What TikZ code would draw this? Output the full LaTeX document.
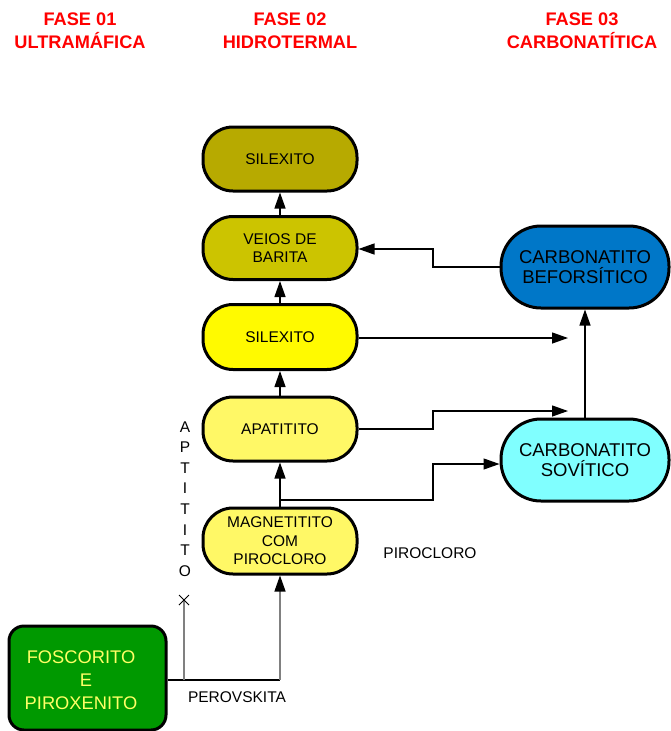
\documentclass[tikz,border=0pt]{standalone}
\usepackage{fontspec}
\setmainfont{Liberation Sans}
\usetikzlibrary{arrows.meta,calc}
\definecolor{titlered}{RGB}{255,0,0}
\definecolor{olivedark}{RGB}{183,170,0}
\definecolor{olivemid}{RGB}{204,196,0}
\definecolor{yellowfull}{RGB}{255,250,0}
\definecolor{yellowlight}{RGB}{255,248,102}
\definecolor{bluebef}{RGB}{0,119,200}
\definecolor{cyansov}{RGB}{128,255,255}
\definecolor{greenfos}{RGB}{0,153,0}
\definecolor{textyellow}{RGB}{255,255,102}
\definecolor{linegray}{RGB}{128,128,128}
\tikzset{
  phasetitle/.style={text=titlered, align=center, font=\bfseries\fontsize{18.2}{23}\selectfont},
  pill/.style={draw=black, line width=3pt, rectangle, rounded corners=30pt,
    minimum width=154pt, minimum height=63pt, align=center, inner sep=0pt,
    font=\fontsize{15.5}{18.5}\selectfont},
  bigpill/.style={pill, rounded corners=40pt, minimum width=168pt, minimum height=82pt,
    font=\fontsize{18.5}{20}\selectfont},
  flow/.style={line width=1.3pt, -{Triangle[length=16pt,width=11pt,color=black]}},
  plain/.style={line width=1.3pt},
  lbl/.style={font=\fontsize{15.5}{18}\selectfont, inner sep=0pt}
}
\begin{document}
\begin{tikzpicture}[x=1pt,y=-1pt]
\useasboundingbox (0,0) rectangle (670,731);

% phase headings
\node[phasetitle] (h1) at (80,31) {FASE 01\\ULTRAMÁFICA};
\node[phasetitle] (h2) at (290,31) {FASE 02\\HIDROTERMAL};
\node[phasetitle] (h3) at (582,31) {FASE 03\\CARBONATÍTICA};

% hydrothermal column
\node[pill, fill=olivedark, minimum height=64pt] (sil1) at (280,159) {SILEXITO};
\node[pill, fill=olivemid] (bar) at (280,248) {VEIOS DE\\BARITA};
\node[pill, fill=yellowfull, minimum height=65pt] (sil2) at (280,337) {SILEXITO};
\node[pill, fill=yellowlight, minimum height=64pt] (apa) at (280,429) {APATITITO};
\node[pill, fill=yellowlight, minimum height=66pt] (mag) at (280,541) {MAGNETITITO\\COM\\PIROCLORO};

% carbonatite column
\node[bigpill, fill=bluebef] (bef) at (585,267) {CARBONATITO\\BEFORSÍTICO};
\node[bigpill, fill=cyansov] (sov) at (585,460) {CARBONATITO\\SOVÍTICO};

% ultramafic source
\node[draw=black, line width=3pt, fill=greenfos, rounded corners=15pt,
      minimum width=157pt, minimum height=104pt, inner sep=0pt] (fos) at (87.5,678) {};
\node[text=textyellow, align=center, font=\fontsize{18.3}{23}\selectfont] (fostext) at (81,680)
  {FOSCORITO\\\hspace*{10pt}E\\PIROXENITO};

% vertical chain
\draw[flow] (bar.north) -- (sil1.south);
\draw[flow] (sil2.north) -- (bar.south);
\draw[flow] (apa.north) -- (sil2.south);
\draw[flow] (mag.north) -- (apa.south);

% links to the carbonatite phase
\coordinate (free1) at (568,338);
\coordinate (free2) at (568,411);
\coordinate (branch) at (280,500);
\draw[flow] (sil2.east |- free1) -- (free1);
\draw[flow] (apa.east) -- (433,429) -- (433,411) -- (free2);
\draw[flow] (branch) -- (433,500) -- (433,464) -- (sov.west |- 0,464);
\draw[flow] (sov.north) -- (bef.south);
\draw[flow] (bef.west) -- (433,267) -- (433,249) -- (bar.east |- 0,249);

% feed from the ultramafic phase
\coordinate (joinA) at (184,680);
\coordinate (joinB) at (280,680);
\coordinate (cross) at (184,600);
\draw[plain] (fos.east |- joinA) -- (joinB);
\draw[flow, draw=linegray] (joinB) -- (mag.south);
\draw[plain, draw=linegray] (joinA) -- (cross);
\draw[line width=1pt] ($(cross)+(-5,-5)$) -- ($(cross)+(5,5)$)
                      ($(cross)+(-5,5)$) -- ($(cross)+(5,-5)$);

% side labels
\node[lbl] (piro) at (430,553) {PIROCLORO};
\node[lbl] (pero) at (237,697) {PEROVSKITA};
\node[lbl, align=center, font=\fontsize{15.5}{20.6}\selectfont] (apt) at (185,499)
  {A\\P\\T\\I\\T\\I\\T\\O};
\end{tikzpicture}
\end{document}
